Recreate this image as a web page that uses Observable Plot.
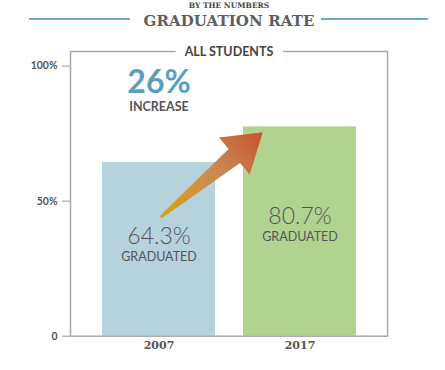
<!DOCTYPE html>
<html><head><meta charset="utf-8">
<script src="https://cdn.jsdelivr.net/npm/d3@7"></script>
<script src="https://cdn.jsdelivr.net/npm/@observablehq/plot@0.6"></script>
<style>
body{margin:0;background:#fff;}
#wrap{width:445px;}
#head{position:relative;height:40px;width:445px;}
.kicker{position:absolute;left:0;width:458px;top:1px;line-height:10px;text-align:center;font:bold 7.5px "DejaVu Serif";color:#444;}
.title{position:absolute;left:0;width:458px;top:12px;line-height:16px;text-align:center;font:bold 15px "DejaVu Serif";color:#5e5e5e;letter-spacing:0.1px;}
.rule{position:absolute;top:17.5px;height:2px;background:#6aabc6;}
#chart svg{display:block;}
</style></head><body>
<div id="wrap">
<div id="head">
  <div class="kicker">BY THE NUMBERS</div>
  <div class="rule" style="left:29px;width:101px"></div>
  <div class="title">GRADUATION RATE</div>
  <div class="rule" style="left:321px;width:107px"></div>
</div>
<div id="chart"></div>
</div>
<script>
const years = ["2007", "2017"];
const barValues = [64.3, 77.5];
const valueLabels = ["64.3%", "80.7%"];
const subLabel = "GRADUATED";
const yTicks = [0, 50, 100];
const yTickLabels = ["0", "50%", "100%"];
const increaseLabel = "26%";
const increaseText = "INCREASE";
const panelTitle = "ALL STUDENTS";
const barColors = ["#b5d2dd", "#b2d38f"];
const arrowYears = ["2007", "2017"];
const arrowFrac = [0.52, 0.175];
const arrowValues = [43.9, 75.3];

const data = years.map((y, i) => ({year: y, value: barValues[i], label: valueLabels[i], color: barColors[i]}));

function arrowMark(index, scales, values, dimensions, context) {
  const x = scales.x, y = scales.y;
  const bw = typeof x.bandwidth === "function" ? x.bandwidth() : x.bandwidth;
  const x0 = x(arrowYears[0]) + arrowFrac[0] * bw, y0 = y(arrowValues[0]);
  const x1 = x(arrowYears[1]) + arrowFrac[1] * bw, y1 = y(arrowValues[1]);
  const dx = x1 - x0, dy = y1 - y0, L = Math.hypot(dx, dy);
  const ux = dx / L, uy = dy / L, nx = -uy, ny = ux;
  const hl = 37, hw = 24, sw = 9, tw = 1.5;
  const bx = x0 + ux * (L - hl), by = y0 + uy * (L - hl);
  const pts = [
    [x0 + nx * tw, y0 + ny * tw], [bx + nx * sw, by + ny * sw], [bx + nx * hw, by + ny * hw],
    [x1, y1], [bx - nx * hw, by - ny * hw], [bx - nx * sw, by - ny * sw], [x0 - nx * tw, y0 - ny * tw]
  ];
  const g = d3.create("svg:g");
  const grad = g.append("defs").append("linearGradient")
    .attr("id", "arrowGrad").attr("gradientUnits", "userSpaceOnUse")
    .attr("x1", x0).attr("y1", y0).attr("x2", x1).attr("y2", y1);
  grad.append("stop").attr("offset", 0).attr("stop-color", "#dba314");
  grad.append("stop").attr("offset", 0.55).attr("stop-color", "#c88a56");
  grad.append("stop").attr("offset", 1).attr("stop-color", "#c9532b");
  g.append("path").attr("d", "M" + pts.map(p => p.join(",")).join("L") + "Z").attr("fill", "url(#arrowGrad)");
  return g.node();
}

const plot = Plot.plot({
  width: 445, height: 330,
  marginLeft: 70, marginRight: 58, marginTop: 11, marginBottom: 34.3,
  style: {fontFamily: "Lato", background: "white"},
  x: {domain: years, paddingInner: 0.2, paddingOuter: 0.22, label: null},
  y: {domain: [0, 105.4], label: null},
  color: {type: "identity"},
  marks: [
    Plot.barY(data, {x: "year", y: "value", fill: "color"}),
    Plot.frame({stroke: "#a8a8a8", strokeWidth: 1.5}),
    Plot.axisY({ticks: yTicks, tickFormat: d => yTickLabels[yTicks.indexOf(d)], tickSize: 8, tickPadding: 5, label: null,
      stroke: "#999", fill: "#555", fontSize: 10.5, fontWeight: "bold", fontFamily: "Lato"}),
    Plot.axisX({tickSize: 0, tickPadding: 5, label: null, fill: "#555", fontSize: 11, fontWeight: "bold", fontFamily: "DejaVu Serif"}),
    arrowMark,
    Plot.text(data, {x: "year", y: d => d.value * 0.562, dy: -2, text: "label", fill: "#555", fontSize: 23, fontWeight: 300, fontFamily: "Lato"}),
    Plot.text(data, {x: "year", y: d => d.value * 0.562, dy: 18, text: () => subLabel, fill: "#555", fontSize: 12.5, fontFamily: "Lato", letterSpacing: 0.5}),
    Plot.text([increaseLabel], {x: () => years[0], frameAnchor: "top", lineAnchor: "middle", dy: 31, text: d => d, fill: "#5a9fbf", fontSize: 32, fontWeight: "bold", fontFamily: "Lato"}),
    Plot.text([increaseText], {x: () => years[0], frameAnchor: "top", lineAnchor: "middle", dy: 55, text: d => d, fill: "#555", fontSize: 12.5, fontWeight: "bold", fontFamily: "Lato"}),
    Plot.text([panelTitle], {frameAnchor: "top", lineAnchor: "middle", text: d => d, fill: "#444", stroke: "white", strokeWidth: 20, fontSize: 12.5, fontWeight: "bold", fontFamily: "Lato"})
  ]
});
document.getElementById("chart").appendChild(plot);
</script>
</body></html>
